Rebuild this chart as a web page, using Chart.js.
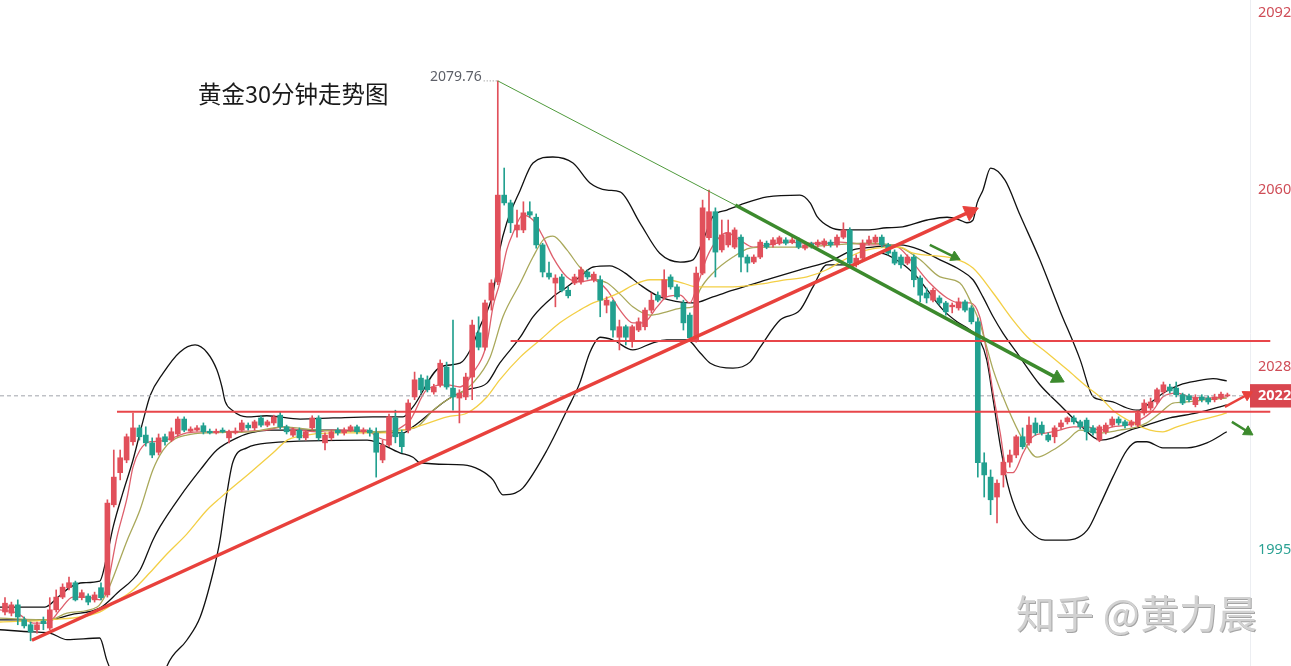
<!DOCTYPE html>
<html>
<head>
<meta charset="utf-8">
<script src="https://cdn.jsdelivr.net/npm/chart.js@4.4.1/dist/chart.umd.min.js"></script>
<style>
  html, body { margin: 0; padding: 0; background: #fff; }
  #wrap { position: relative; width: 1291px; height: 666px; overflow: hidden; }
  #title { position: absolute; left: 198px; top: 76px; font: 23.5px "Noto Sans CJK SC", sans-serif; color: #1a1a1a; }
  #mark { position: absolute; left: 1016px; top: 583px; font: 39px "Noto Sans CJK SC", sans-serif; color: #d2d2d2; text-shadow: 1px 1px 0 #a5a5a5; }
</style>
</head>
<body>
<div id="wrap">
  <canvas id="myChart" width="1291" height="666"></canvas>
  <div id="title">黄金30分钟走势图</div>
  <div id="mark">知乎 @黄力晨</div>
</div>
<script>
// 30-minute gold candles, index 0..191
const opens = [
  1983.7, 1983.5, 1985.0, 1982.3, 1981.4, 1980.5, 1982.1, 1980.8, 1984.1, 1986.4,
  1988.1, 1989.0, 1986.3, 1986.6, 1985.9, 1988.1, 1986.8, 2003.1, 2008.9, 2011.2,
  2014.5, 2017.0, 2015.7, 2014.3, 2012.6, 2015.4, 2014.8, 2015.9, 2018.6, 2016.4,
  2016.6, 2017.4, 2016.4, 2016.1, 2016.6, 2015.2, 2016.1, 2016.6, 2017.5, 2017.0,
  2018.8, 2017.5, 2017.9, 2019.3, 2017.2, 2015.7, 2016.6, 2015.2, 2017.0, 2018.8,
  2014.3, 2015.2, 2016.6, 2016.1, 2016.6, 2017.2, 2016.3, 2016.6, 2016.1, 2011.2,
  2013.9, 2018.8, 2016.1, 2016.6, 2022.6, 2026.0, 2025.7, 2023.5, 2024.8, 2028.0,
  2024.2, 2022.4, 2022.6, 2026.2, 2034.2, 2031.6, 2040.1, 2043.4, 2059.1, 2057.7,
  2052.8, 2052.8, 2056.1, 2055.1, 2050.1, 2045.0, 2043.2, 2044.3, 2041.9, 2043.2,
  2043.4, 2045.2, 2043.8, 2043.8, 2039.2, 2039.8, 2033.4, 2035.3, 2032.9, 2034.7,
  2035.3, 2038.3, 2041.0, 2040.7, 2044.3, 2042.5, 2039.6, 2037.4, 2032.9, 2045.0,
  2051.4, 2056.1, 2049.2, 2050.1, 2049.7, 2051.5, 2047.9, 2047.0, 2047.9, 2050.4,
  2050.1, 2050.4, 2051.0, 2050.6, 2051.0, 2049.5, 2050.3, 2050.1, 2050.1, 2050.6,
  2050.1, 2051.5, 2052.8, 2046.5, 2047.7, 2050.4, 2050.6, 2051.5, 2050.1, 2048.8,
  2047.9, 2046.8, 2047.9, 2044.1, 2041.4, 2040.1, 2040.5, 2039.6, 2038.9, 2038.7,
  2039.8, 2038.7, 2036.2, 2010.7, 2008.1, 2004.5, 2008.5, 2010.8, 2012.1, 2015.4,
  2014.3, 2017.9, 2017.5, 2015.7, 2015.4, 2017.2, 2018.1, 2018.8, 2018.1, 2018.4,
  2017.0, 2014.8, 2016.3, 2017.5, 2018.6, 2018.1, 2017.5, 2017.5, 2019.7, 2020.6,
  2021.7, 2023.5, 2024.4, 2024.2, 2023.0, 2022.8, 2021.2, 2022.6, 2022.4, 2022.1,
  2022.4, 2022.8
];
const highs = [
  1986.3, 1985.5, 1985.9, 1982.8, 1981.9, 1981.9, 1982.8, 1986.3, 1987.7, 1988.8,
  1990.0, 1989.3, 1987.7, 1987.0, 1987.3, 1989.0, 2004.0, 2013.0, 2013.0, 2015.9,
  2019.7, 2017.5, 2017.2, 2015.2, 2015.9, 2015.9, 2017.0, 2019.0, 2019.0, 2017.2,
  2017.4, 2017.9, 2016.8, 2016.8, 2017.0, 2016.6, 2017.0, 2018.4, 2017.9, 2018.4,
  2019.2, 2018.4, 2019.3, 2019.9, 2017.5, 2017.0, 2017.0, 2016.6, 2019.2, 2019.2,
  2016.1, 2016.6, 2017.0, 2017.0, 2017.5, 2017.5, 2017.0, 2017.0, 2017.0, 2014.8,
  2019.5, 2020.2, 2016.6, 2022.1, 2027.1, 2026.6, 2026.4, 2024.9, 2029.3, 2028.9,
  2036.5, 2023.9, 2026.9, 2036.5, 2037.1, 2040.1, 2043.8, 2079.76, 2064.0, 2058.2,
  2056.4, 2057.9, 2057.9, 2055.7, 2050.4, 2047.0, 2044.7, 2044.8, 2042.5, 2044.8,
  2046.1, 2045.6, 2045.2, 2044.5, 2040.7, 2040.1, 2036.5, 2035.6, 2035.6, 2036.9,
  2038.7, 2041.4, 2041.6, 2045.6, 2044.7, 2042.9, 2040.1, 2037.8, 2046.1, 2058.2,
  2060.0, 2056.8, 2054.6, 2054.6, 2053.2, 2051.9, 2048.3, 2048.3, 2051.0, 2050.8,
  2051.4, 2051.7, 2051.4, 2051.5, 2051.4, 2050.4, 2050.6, 2051.0, 2051.2, 2051.0,
  2051.9, 2054.1, 2053.2, 2048.3, 2051.0, 2051.7, 2051.9, 2051.9, 2050.4, 2049.2,
  2048.3, 2048.3, 2048.3, 2044.5, 2042.3, 2042.3, 2040.9, 2039.9, 2039.6, 2040.5,
  2040.1, 2039.1, 2036.9, 2012.5, 2009.4, 2007.6, 2011.6, 2013.0, 2015.7, 2017.0,
  2019.0, 2018.8, 2018.1, 2016.1, 2017.4, 2018.4, 2019.0, 2019.2, 2018.4, 2018.8,
  2017.4, 2017.5, 2017.9, 2019.0, 2019.0, 2018.4, 2018.4, 2020.1, 2022.1, 2022.4,
  2024.2, 2025.3, 2024.9, 2025.3, 2023.3, 2023.1, 2023.0, 2023.0, 2022.8, 2023.1,
  2023.5, 2023.3
];
const lows = [
  1983.2, 1983.0, 1981.4, 1980.8, 1978.5, 1979.9, 1980.5, 1980.5, 1983.7, 1986.1,
  1987.7, 1985.7, 1985.9, 1985.0, 1985.5, 1985.9, 1986.4, 2002.7, 2007.6, 2010.7,
  2013.9, 2014.8, 2013.7, 2011.6, 2012.1, 2013.9, 2014.5, 2015.5, 2016.3, 2016.3,
  2016.4, 2015.9, 2015.9, 2015.9, 2016.1, 2014.3, 2015.9, 2016.3, 2016.6, 2016.6,
  2017.2, 2017.2, 2017.5, 2016.8, 2015.9, 2015.4, 2014.8, 2014.8, 2016.6, 2014.8,
  2013.0, 2014.8, 2015.7, 2015.7, 2016.3, 2015.9, 2015.9, 2015.5, 2008.1, 2010.7,
  2013.6, 2014.3, 2012.5, 2016.1, 2022.1, 2023.3, 2023.5, 2023.1, 2024.4, 2024.0,
  2020.2, 2017.9, 2022.1, 2022.1, 2031.1, 2031.1, 2038.3, 2042.9, 2057.3, 2052.3,
  2051.5, 2052.3, 2055.1, 2049.5, 2044.3, 2043.9, 2038.9, 2041.6, 2040.5, 2042.9,
  2043.0, 2043.9, 2043.4, 2037.1, 2037.8, 2033.4, 2031.1, 2032.0, 2031.6, 2034.4,
  2034.7, 2037.8, 2039.8, 2040.3, 2042.1, 2040.3, 2034.7, 2032.9, 2032.5, 2044.7,
  2051.0, 2044.3, 2048.8, 2049.7, 2049.4, 2045.2, 2045.2, 2046.7, 2047.6, 2049.4,
  2049.7, 2050.1, 2050.1, 2050.3, 2049.4, 2049.2, 2049.5, 2049.7, 2049.7, 2049.7,
  2049.7, 2051.2, 2046.5, 2046.1, 2047.4, 2050.1, 2050.3, 2049.7, 2048.3, 2046.5,
  2045.9, 2046.5, 2042.5, 2039.8, 2039.6, 2039.8, 2039.2, 2037.4, 2037.8, 2038.3,
  2038.0, 2035.8, 2008.1, 2004.5, 2001.3, 1999.8, 2006.3, 2009.9, 2011.6, 2013.2,
  2013.9, 2015.7, 2015.7, 2014.5, 2014.3, 2016.8, 2017.7, 2017.7, 2016.8, 2014.8,
  2015.7, 2014.5, 2015.9, 2017.2, 2017.5, 2017.0, 2017.2, 2017.2, 2019.3, 2020.2,
  2021.3, 2023.1, 2023.3, 2022.6, 2021.2, 2021.7, 2020.8, 2021.7, 2021.3, 2021.7,
  2022.1, 2022.6
];
const closes = [
  1985.3, 1985.0, 1982.8, 1981.2, 1980.1, 1981.4, 1981.6, 1984.1, 1986.4, 1988.2,
  1989.0, 1985.9, 1987.2, 1985.5, 1986.8, 1986.3, 2003.4, 2008.1, 2011.6, 2015.4,
  2017.0, 2015.4, 2014.3, 2012.1, 2015.2, 2014.5, 2016.3, 2018.6, 2016.6, 2016.8,
  2017.0, 2016.3, 2016.1, 2016.4, 2016.3, 2016.3, 2016.4, 2017.9, 2017.0, 2018.1,
  2017.5, 2018.1, 2019.0, 2017.2, 2016.3, 2016.6, 2015.2, 2016.3, 2018.8, 2015.2,
  2015.7, 2016.3, 2016.1, 2016.6, 2017.2, 2016.3, 2016.6, 2016.1, 2012.6, 2013.9,
  2019.0, 2015.4, 2013.6, 2021.5, 2025.7, 2023.9, 2023.9, 2024.4, 2028.7, 2024.4,
  2022.6, 2023.3, 2026.2, 2035.6, 2031.6, 2039.6, 2043.2, 2059.1, 2057.7, 2054.1,
  2053.7, 2055.9, 2055.5, 2050.1, 2045.2, 2044.3, 2044.1, 2041.9, 2040.9, 2044.3,
  2045.6, 2044.3, 2044.8, 2040.1, 2040.1, 2034.7, 2035.3, 2033.4, 2035.3, 2036.2,
  2038.3, 2040.1, 2040.1, 2043.8, 2042.5, 2040.7, 2036.0, 2033.3, 2045.0, 2056.8,
  2056.1, 2048.8, 2051.9, 2052.3, 2052.8, 2047.9, 2046.8, 2047.9, 2050.6, 2049.7,
  2051.0, 2051.4, 2050.4, 2051.0, 2049.7, 2050.1, 2049.9, 2050.6, 2050.8, 2050.1,
  2051.5, 2052.8, 2046.8, 2047.7, 2050.4, 2051.0, 2051.5, 2050.1, 2048.6, 2046.8,
  2046.5, 2047.9, 2043.8, 2041.0, 2040.5, 2041.9, 2039.6, 2038.0, 2039.2, 2039.8,
  2038.3, 2036.2, 2010.7, 2008.5, 2004.0, 2007.0, 2010.8, 2012.1, 2015.4, 2013.6,
  2017.5, 2016.1, 2016.1, 2014.8, 2017.0, 2017.9, 2018.8, 2018.1, 2017.2, 2016.3,
  2016.1, 2017.2, 2017.5, 2018.6, 2017.9, 2017.4, 2018.1, 2019.7, 2021.5, 2021.7,
  2023.9, 2024.8, 2023.7, 2023.0, 2021.5, 2022.1, 2022.4, 2022.1, 2021.7, 2022.6,
  2023.1, 2022.96
];

// Bollinger bands at these candle positions
const upperIdx = [-0.8, 6.25, 8.3, 10.2, 12.2, 14.8, 15.9, 16.9, 18.4, 20.0, 21.6, 22.7, 24.7, 27.3, 29.7, 31.6, 33.1, 33.9, 34.4, 35.5, 37.8, 40.9, 46.1, 51.25, 57.5, 62.2, 63.75, 68.0, 71.1, 72.7, 74.2, 76.25, 77.3, 78.4, 80.5, 82.5, 85.6, 88.75, 91.4, 94.1, 96.1, 99.2, 102.3, 105.5, 107.5, 109.1, 110.6, 112.8, 114.8, 119.1, 124.2, 125.8, 126.9, 128.9, 130.9, 134.7, 137.8, 139.8, 144.1, 147.2, 149.2, 150.3, 151.25, 151.9, 152.8, 154.0, 156.25, 158.6, 161.7, 164.8, 168.0, 169.8, 171.1, 173.1, 175.3, 177.0, 178.9, 181.25, 183.6, 186.25, 188.75, 190.9];
const upperVal = [1984.6, 1984.6, 1986.4, 1988.2, 1989.0, 1989.3, 1993.7, 1999.1, 2005.2, 2011.2, 2018.4, 2022.9, 2026.9, 2030.7, 2032.0, 2030.6, 2027.5, 2024.4, 2021.8, 2020.2, 2019.0, 2019.2, 2018.6, 2018.8, 2019.0, 2019.0, 2020.8, 2028.0, 2028.7, 2031.1, 2035.3, 2041.4, 2049.2, 2054.1, 2060.0, 2064.9, 2066.0, 2064.9, 2061.3, 2060.0, 2059.7, 2054.1, 2048.6, 2047.0, 2047.4, 2051.0, 2055.2, 2056.4, 2057.3, 2058.8, 2059.1, 2057.7, 2055.2, 2053.3, 2052.8, 2052.8, 2053.2, 2053.3, 2054.6, 2055.1, 2054.6, 2054.1, 2054.6, 2057.7, 2060.0, 2064.0, 2061.8, 2055.5, 2047.4, 2038.3, 2029.3, 2023.0, 2022.1, 2021.7, 2020.6, 2020.2, 2021.5, 2023.5, 2024.8, 2025.5, 2025.9, 2025.5];
const midIdx = [-0.8, 7.0, 10.2, 14.8, 17.5, 21.1, 23.1, 24.2, 27.3, 30.5, 33.1, 36.25, 38.3, 41.4, 51.25, 56.6, 62.2, 63.75, 69.1, 72.2, 75.3, 77.3, 80.5, 82.5, 85.6, 87.8, 89.8, 91.9, 94.5, 96.9, 99.2, 102.3, 107.5, 110.6, 113.75, 119.1, 124.2, 129.4, 132.5, 135.6, 139.8, 143.0, 146.1, 149.2, 151.25, 152.8, 154.4, 155.9, 158.1, 161.7, 164.8, 168.0, 171.1, 173.1, 175.8, 178.4, 182.0, 186.25, 190.9];
const midVal = [1982.3, 1982.3, 1983.2, 1984.4, 1987.1, 1991.3, 1996.7, 1999.1, 2004.5, 2009.4, 2013.0, 2015.2, 2016.1, 2016.6, 2016.6, 2016.3, 2016.1, 2017.2, 2022.1, 2023.9, 2025.1, 2028.7, 2033.4, 2037.1, 2040.7, 2042.5, 2044.3, 2046.1, 2046.3, 2045.0, 2042.9, 2040.7, 2039.6, 2040.7, 2041.9, 2043.8, 2045.6, 2047.4, 2049.2, 2049.7, 2050.1, 2049.2, 2047.4, 2045.6, 2043.8, 2040.7, 2037.1, 2034.2, 2030.6, 2024.8, 2021.2, 2017.5, 2014.8, 2015.2, 2016.6, 2017.5, 2018.8, 2019.7, 2021.15];
const lowerIdx = [-0.8, 4.4, 7.0, 9.7, 14.8, 15.9, 16.4, 18.5, 21.5, 24.0, 25.3, 28.4, 30.5, 32.5, 33.6, 34.4, 35.6, 37.8, 41.4, 56.6, 61.7, 63.75, 64.8, 71.6, 74.2, 76.25, 77.8, 79.7, 80.9, 84.7, 87.8, 89.8, 91.4, 93.0, 95.0, 98.1, 101.25, 103.4, 106.6, 108.6, 110.2, 113.75, 116.4, 118.0, 121.1, 124.2, 126.25, 128.4, 132.5, 136.7, 139.8, 142.5, 144.1, 146.6, 148.75, 150.8, 152.3, 153.4, 154.4, 155.5, 156.7, 158.3, 160.2, 162.5, 165.3, 169.1, 171.1, 173.1, 175.3, 176.9, 178.4, 180.9, 184.7, 187.8, 190.9];
const lowerVal = [1980.5, 1980.1, 1979.9, 1978.7, 1979.0, 1975.0, 1973.5, 1967.0, 1964.5, 1968.5, 1973.9, 1978.6, 1982.8, 1990.8, 1996.7, 2003.1, 2010.8, 2013.4, 2014.3, 2014.8, 2012.5, 2011.7, 2010.7, 2010.3, 2009.4, 2007.6, 2004.9, 2005.2, 2006.1, 2013.0, 2020.2, 2025.1, 2030.7, 2033.4, 2032.9, 2031.1, 2032.4, 2032.9, 2032.9, 2030.6, 2028.7, 2027.8, 2028.9, 2031.6, 2036.5, 2038.3, 2042.5, 2046.5, 2046.5, 2048.6, 2047.0, 2044.3, 2041.95, 2038.3, 2036.2, 2034.7, 2032.9, 2029.3, 2022.1, 2013.9, 2006.7, 2001.3, 1998.2, 1996.7, 1996.7, 1998.5, 2003.1, 2008.1, 2013.0, 2014.5, 2014.5, 2013.4, 2013.4, 2014.3, 2016.3];

// moving averages
const maFastIdx = [-0.8, 1.9, 4.4, 6.6, 8.6, 10.6, 12.8, 14.8, 15.9, 17.5, 19.1, 20.0, 21.1, 22.7, 24.2, 26.25, 28.4, 31.6, 40.9, 43.4, 46.1, 48.75, 51.25, 56.6, 58.1, 59.7, 61.25, 63.3, 65.9, 69.1, 71.1, 73.1, 75.3, 76.25, 77.3, 78.4, 79.4, 80.9, 82.5, 84.1, 85.6, 87.8, 89.8, 91.9, 94.1, 96.1, 98.1, 99.7, 101.9, 103.4, 105.5, 107.0, 108.1, 109.7, 111.25, 112.8, 114.8, 116.9, 119.1, 122.2, 125.3, 128.4, 130.5, 132.5, 134.7, 137.8, 139.8, 141.9, 144.5, 147.2, 149.2, 150.8, 152.3, 153.4, 154.4, 155.5, 156.6, 157.5, 159.1, 160.6, 162.8, 164.8, 166.9, 169.1, 171.1, 173.1, 175.3, 177.3, 179.4, 180.9, 183.1, 185.2, 187.8, 190.9];
const maFastVal = [1984.1, 1983.5, 1981.7, 1981.7, 1984.1, 1986.4, 1986.4, 1985.9, 1988.2, 1997.3, 2004.5, 2009.9, 2013.0, 2014.5, 2014.6, 2015.2, 2016.1, 2016.3, 2016.6, 2017.2, 2016.6, 2016.3, 2016.6, 2016.6, 2015.4, 2014.8, 2016.6, 2018.4, 2023.9, 2024.8, 2024.4, 2026.9, 2032.4, 2038.9, 2043.2, 2049.2, 2052.3, 2055.5, 2054.6, 2051.5, 2047.9, 2044.3, 2043.4, 2043.8, 2041.9, 2038.3, 2036.0, 2036.0, 2038.9, 2040.7, 2041.0, 2039.6, 2042.5, 2047.9, 2051.0, 2052.3, 2051.0, 2049.7, 2050.1, 2050.6, 2050.4, 2050.4, 2050.6, 2050.4, 2050.1, 2050.1, 2049.5, 2046.8, 2043.2, 2040.5, 2039.6, 2039.6, 2037.1, 2030.6, 2023.3, 2016.1, 2008.9, 2008.9, 2012.5, 2015.4, 2016.1, 2016.6, 2017.2, 2017.2, 2016.6, 2017.2, 2017.5, 2018.4, 2020.2, 2022.6, 2023.3, 2022.6, 2022.4, 2022.6];
const maMidIdx = [-0.8, 7.0, 9.7, 14.4, 15.9, 19.1, 21.1, 23.1, 24.7, 26.25, 28.4, 31.6, 38.3, 43.4, 48.75, 56.6, 61.7, 64.4, 66.9, 69.1, 71.1, 73.1, 75.8, 77.8, 80.5, 82.5, 84.1, 85.6, 87.8, 89.8, 91.9, 94.1, 96.1, 98.1, 100.8, 103.4, 105.9, 107.5, 108.6, 110.6, 113.75, 116.4, 119.1, 124.2, 129.4, 134.7, 139.8, 143.0, 146.1, 149.2, 151.25, 152.3, 153.4, 154.4, 156.6, 159.1, 161.25, 163.75, 166.0, 168.0, 171.1, 174.2, 176.9, 178.4, 180.5, 182.5, 184.7, 187.8, 190.9];
const maMidVal = [1982.6, 1982.3, 1983.5, 1984.6, 1987.2, 1996.7, 2002.2, 2009.4, 2013.0, 2014.8, 2015.7, 2016.1, 2016.3, 2017.2, 2016.6, 2016.3, 2016.6, 2017.2, 2020.2, 2022.1, 2023.3, 2025.1, 2029.8, 2037.1, 2043.2, 2047.9, 2051.0, 2051.7, 2049.2, 2046.1, 2044.1, 2043.2, 2041.2, 2038.9, 2037.4, 2038.0, 2038.7, 2038.9, 2042.0, 2045.0, 2047.9, 2049.5, 2049.7, 2049.7, 2050.1, 2050.4, 2049.7, 2047.4, 2044.3, 2043.2, 2038.9, 2036.0, 2031.6, 2027.5, 2020.8, 2014.8, 2011.7, 2013.0, 2014.8, 2016.6, 2016.1, 2016.6, 2017.2, 2017.9, 2019.7, 2021.5, 2021.7, 2022.1, 2022.4];
const maSlowIdx = [-0.8, 7.0, 14.8, 17.5, 20.0, 22.7, 25.3, 28.4, 31.6, 33.6, 38.3, 41.9, 44.1, 46.1, 51.25, 58.6, 63.75, 69.1, 72.2, 75.3, 77.3, 80.5, 83.6, 86.7, 89.8, 91.9, 94.1, 96.1, 98.1, 100.8, 103.4, 105.9, 108.1, 113.75, 119.1, 122.2, 125.3, 128.4, 130.5, 133.6, 136.25, 139.8, 141.9, 148.1, 151.25, 154.4, 157.5, 159.7, 162.8, 166.0, 169.1, 171.1, 173.1, 176.25, 178.9, 180.9, 183.1, 185.6, 188.75, 190.9];
const maSlowVal = [1981.9, 1982.3, 1983.7, 1985.7, 1987.7, 1990.9, 1994.2, 1997.8, 2002.2, 2004.3, 2008.9, 2012.5, 2014.8, 2015.5, 2016.1, 2016.1, 2017.0, 2019.0, 2019.7, 2022.6, 2025.7, 2029.8, 2032.9, 2036.0, 2038.3, 2039.6, 2040.5, 2041.5, 2042.8, 2043.8, 2043.8, 2043.2, 2042.5, 2042.5, 2043.2, 2043.8, 2044.3, 2045.6, 2047.0, 2048.8, 2049.5, 2049.7, 2048.6, 2047.7, 2045.9, 2041.4, 2036.5, 2033.5, 2030.6, 2027.5, 2024.4, 2022.6, 2020.2, 2017.9, 2016.6, 2016.3, 2017.2, 2018.1, 2019.0, 2019.7];

// hand-drawn lines: [index, price] end points
const riseLine = [[4.2, 1978.6], [150.8, 2056.1]];
const fallLineThin = [[77, 2079.76], [114.1, 2057.3]];
const fallLine = [[114.1, 2057.3], [164.4, 2026.0]];
const hintDownTop = [[144.5, 2050.1], [148.4, 2047.9]];
const hintUp = [[190.6, 2020.8], [194.1, 2023.0]];
const hintDown = [[191.7, 2018.1], [194.2, 2016.3]];
const resistance = [[79, 2032.7], [197.7, 2032.7]];
const support = [[17.5, 2019.9], [197.7, 2019.9]];

const axisTicks = [1995, 2022.8, 2028, 2060, 2092];
const lastPrice = 2022.8;
const peakIndex = 77;
const xMin = -0.78, xMax = 194.53;
const yMin = 1973.94, yMax = 2094.39;

const upColor = '#e1505b';
const downColor = '#22a08f';
const isUp = i => closes[i] >= opens[i];
const candleColor = ctx => isUp(ctx.dataIndex) ? upColor : downColor;

function pts(xs, ys) {
    return xs.map((x, k) => ({ x: x, y: ys[k] }));
}
function seg(p) {
    return p.map(q => ({ x: q[0], y: q[1] }));
}
function lineDs(data, color, width, order) {
    return {
        type: 'line', data: data, borderColor: color, borderWidth: width,
        pointRadius: 0, cubicInterpolationMode: 'monotone', fill: false, order: order
    };
}
function arrowRotation(ctx) {
    const d = ctx.dataset.data;
    const xs = ctx.chart.scales.x, ys = ctx.chart.scales.y;
    const a = d[0], b = d[d.length - 1];
    const dx = xs.getPixelForValue(b.x) - xs.getPixelForValue(a.x);
    const dy = ys.getPixelForValue(b.y) - ys.getPixelForValue(a.y);
    return Math.atan2(dy, dx) * 180 / Math.PI + 90;
}
function arrowDs(p, color, width, head) {
    return {
        type: 'line', data: seg(p), borderColor: color, borderWidth: width,
        pointRadius: [0, head], pointStyle: 'triangle', pointRotation: arrowRotation,
        pointBackgroundColor: color, pointBorderColor: color, pointBorderWidth: 1,
        fill: false, order: 1, clip: false
    };
}

const peakLabel = {
    id: 'peakLabel',
    afterDatasetsDraw(chart) {
        const { ctx, scales: { x, y } } = chart;
        const px = x.getPixelForValue(peakIndex);
        const py = y.getPixelForValue(highs[peakIndex]);
        ctx.save();
        ctx.font = '14px "Noto Sans", sans-serif';
        ctx.fillStyle = '#5d6068';
        ctx.textAlign = 'right';
        ctx.textBaseline = 'middle';
        ctx.fillText(highs[peakIndex].toFixed(2), px - 16, py - 4);
        ctx.restore();
    }
};

const candleIdx = opens.map((_, i) => i);

const ctx = document.getElementById('myChart').getContext('2d');
const myChart = new Chart(ctx, {
    type: 'bar',
    data: {
        datasets: [
            lineDs(pts(upperIdx, upperVal), '#111', 1.3, 10),
            lineDs(pts(midIdx, midVal), '#111', 1.3, 10),
            lineDs(pts(lowerIdx, lowerVal), '#111', 1.3, 10),
            lineDs(pts(maSlowIdx, maSlowVal), '#f3cf45', 1.3, 9),
            lineDs(pts(maMidIdx, maMidVal), '#a9a85a', 1.3, 9),
            lineDs(pts(maFastIdx, maFastVal), '#de5f6c', 1.3, 9),
            {
                type: 'bar', data: candleIdx.map(i => ({ x: i, y: [lows[i], highs[i]] })),
                backgroundColor: candleColor, barThickness: 1, grouped: false, order: 7
            },
            {
                type: 'bar', data: candleIdx.map(i => ({ x: i, y: [opens[i], closes[i]] })),
                backgroundColor: candleColor, barThickness: 5, minBarLength: 1, grouped: false, order: 6
            },
            {
                type: 'line', data: [{ x: xMin, y: lastPrice }, { x: xMax, y: lastPrice }],
                borderColor: '#a0a3ab', borderWidth: 1, borderDash: [4, 3], pointRadius: 0, order: 8
            },
            {
                type: 'line', data: [{ x: 74.8, y: highs[peakIndex] }, { x: 76.9, y: highs[peakIndex] }],
                borderColor: '#888', borderWidth: 1, borderDash: [1, 2], pointRadius: 0, order: 2
            },
            Object.assign(lineDs(seg(support), '#e8464a', 2, 3), { clip: false }),
            Object.assign(lineDs(seg(resistance), '#e8464a', 2, 3), { clip: false }),
            lineDs(seg(fallLineThin), '#4f9a3c', 1, 2),
            arrowDs(fallLine, '#3c8a2d', 3.5, 8),
            arrowDs(riseLine, '#e8413c', 3.5, 9),
            arrowDs(hintDownTop, '#3c8a2d', 2.5, 6),
            arrowDs(hintUp, '#e8413c', 2.5, 6),
            arrowDs(hintDown, '#3c8a2d', 2.5, 6)
        ]
    },
    options: {
        responsive: false,
        animation: false,
        events: [],
        layout: { padding: 0, autoPadding: false },
        plugins: { legend: { display: false }, tooltip: { enabled: false } },
        scales: {
            x: { type: 'linear', min: xMin, max: xMax, display: false, offset: false },
            y: {
                type: 'linear', position: 'right', min: yMin, max: yMax,
                afterBuildTicks: s => { s.ticks = axisTicks.map(v => ({ value: v })); },
                afterFit: s => { s.width = 41; s.paddingTop = 0; s.paddingBottom = 0; },
                grid: { display: false, drawTicks: false },
                border: { display: true, color: '#eceef2' },
                ticks: {
                    padding: 8,
                    autoSkip: false,
                    font: c => ({ family: '"Noto Sans", sans-serif', size: 14.5, weight: c.tick && c.tick.value === lastPrice ? 'bold' : 'normal' }),
                    color: c => c.tick.value === lastPrice ? '#ffffff' : (c.tick.value < 2000 ? '#2aa193' : '#cf4d57'),
                    callback: v => v === lastPrice ? '2022' : String(v),
                    showLabelBackdrop: c => c.tick.value === lastPrice,
                    backdropColor: '#d9464f',
                    backdropPadding: { top: 3, bottom: 3, left: 8, right: 8 }
                }
            }
        }
    },
    plugins: [peakLabel]
});
</script>
</body>
</html>
